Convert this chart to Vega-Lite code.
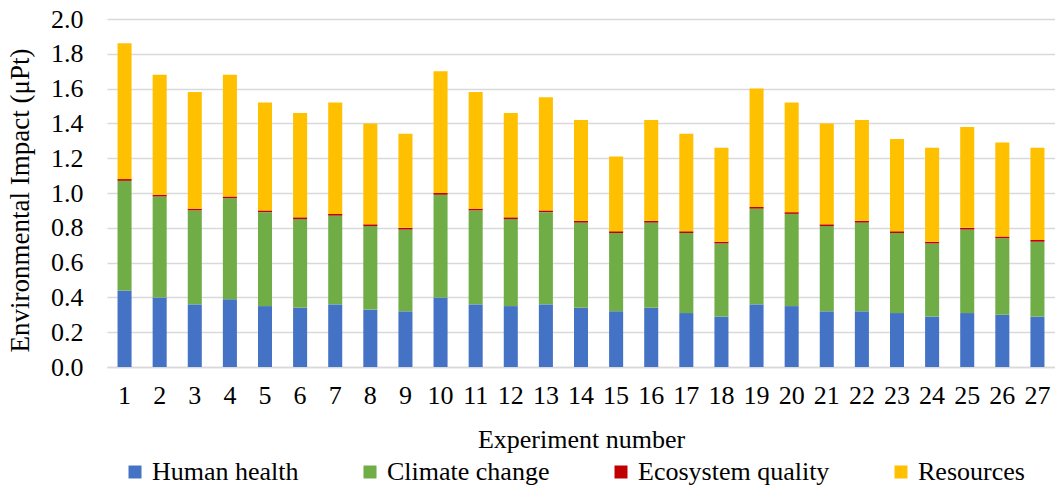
{
  "$schema": "https://vega.github.io/schema/vega-lite/v6.json",
  "width": 948,
  "height": 348,
  "autosize": "none",
  "padding": {"left": 107, "top": 19, "right": 0, "bottom": 121},
  "background": "white",
  "config": {
    "font": "Liberation Serif",
    "view": {"stroke": null},
    "axis": {"labelFont": "Liberation Serif", "titleFont": "Liberation Serif", "labelColor": "#000", "titleColor": "#000", "labelFontSize": 26, "titleFontSize": 26, "titleFontWeight": "normal"},
    "legend": {"labelFont": "Liberation Serif", "labelFontSize": 26, "labelColor": "#000", "labelLimit": 0}
  },
  "data": {
    "values": [
      {"Experiment": 1, "Human health": 0.44, "Climate change": 0.63, "Ecosystem quality": 0.01, "Resources": 0.78},
      {"Experiment": 2, "Human health": 0.40, "Climate change": 0.58, "Ecosystem quality": 0.01, "Resources": 0.69},
      {"Experiment": 3, "Human health": 0.36, "Climate change": 0.54, "Ecosystem quality": 0.01, "Resources": 0.67},
      {"Experiment": 4, "Human health": 0.39, "Climate change": 0.58, "Ecosystem quality": 0.01, "Resources": 0.70},
      {"Experiment": 5, "Human health": 0.35, "Climate change": 0.54, "Ecosystem quality": 0.01, "Resources": 0.62},
      {"Experiment": 6, "Human health": 0.34, "Climate change": 0.51, "Ecosystem quality": 0.01, "Resources": 0.60},
      {"Experiment": 7, "Human health": 0.36, "Climate change": 0.51, "Ecosystem quality": 0.01, "Resources": 0.64},
      {"Experiment": 8, "Human health": 0.33, "Climate change": 0.48, "Ecosystem quality": 0.01, "Resources": 0.58},
      {"Experiment": 9, "Human health": 0.32, "Climate change": 0.47, "Ecosystem quality": 0.01, "Resources": 0.54},
      {"Experiment": 10, "Human health": 0.40, "Climate change": 0.59, "Ecosystem quality": 0.01, "Resources": 0.70},
      {"Experiment": 11, "Human health": 0.36, "Climate change": 0.54, "Ecosystem quality": 0.01, "Resources": 0.67},
      {"Experiment": 12, "Human health": 0.35, "Climate change": 0.50, "Ecosystem quality": 0.01, "Resources": 0.60},
      {"Experiment": 13, "Human health": 0.36, "Climate change": 0.53, "Ecosystem quality": 0.01, "Resources": 0.65},
      {"Experiment": 14, "Human health": 0.34, "Climate change": 0.49, "Ecosystem quality": 0.01, "Resources": 0.58},
      {"Experiment": 15, "Human health": 0.32, "Climate change": 0.45, "Ecosystem quality": 0.01, "Resources": 0.43},
      {"Experiment": 16, "Human health": 0.34, "Climate change": 0.49, "Ecosystem quality": 0.01, "Resources": 0.58},
      {"Experiment": 17, "Human health": 0.31, "Climate change": 0.46, "Ecosystem quality": 0.01, "Resources": 0.56},
      {"Experiment": 18, "Human health": 0.29, "Climate change": 0.42, "Ecosystem quality": 0.01, "Resources": 0.54},
      {"Experiment": 19, "Human health": 0.36, "Climate change": 0.55, "Ecosystem quality": 0.01, "Resources": 0.68},
      {"Experiment": 20, "Human health": 0.35, "Climate change": 0.53, "Ecosystem quality": 0.01, "Resources": 0.63},
      {"Experiment": 21, "Human health": 0.32, "Climate change": 0.49, "Ecosystem quality": 0.01, "Resources": 0.58},
      {"Experiment": 22, "Human health": 0.32, "Climate change": 0.51, "Ecosystem quality": 0.01, "Resources": 0.58},
      {"Experiment": 23, "Human health": 0.31, "Climate change": 0.46, "Ecosystem quality": 0.01, "Resources": 0.53},
      {"Experiment": 24, "Human health": 0.29, "Climate change": 0.42, "Ecosystem quality": 0.01, "Resources": 0.54},
      {"Experiment": 25, "Human health": 0.31, "Climate change": 0.48, "Ecosystem quality": 0.01, "Resources": 0.58},
      {"Experiment": 26, "Human health": 0.30, "Climate change": 0.44, "Ecosystem quality": 0.01, "Resources": 0.54},
      {"Experiment": 27, "Human health": 0.29, "Climate change": 0.43, "Ecosystem quality": 0.01, "Resources": 0.53}
    ]
  },
  "transform": [
    {"fold": ["Human health", "Climate change", "Ecosystem quality", "Resources"], "as": ["Category", "Impact"]},
    {
      "lookup": "Category",
      "from": {
        "data": {
          "values": [
            {"Category": "Human health", "rank": 1},
            {"Category": "Climate change", "rank": 2},
            {"Category": "Ecosystem quality", "rank": 3},
            {"Category": "Resources", "rank": 4}
          ]
        },
        "key": "Category",
        "fields": ["rank"]
      }
    }
  ],
  "mark": {"type": "bar"},
  "encoding": {
    "x": {
      "field": "Experiment",
      "type": "ordinal",
      "scale": {"paddingInner": 0.6, "paddingOuter": 0.3},
      "axis": {
        "title": "Experiment number",
        "labelAngle": 0,
        "ticks": false,
        "labelPadding": 15,
        "domainColor": "#D9D9D9",
        "domainWidth": 1.5,
        "titleY": 72,
        "titleBaseline": "middle"
      }
    },
    "y": {
      "field": "Impact",
      "type": "quantitative",
      "stack": "zero",
      "scale": {"domain": [0, 2], "nice": false},
      "axis": {
        "title": "Environmental Impact (μPt)",
        "titleFontSize": 27,
        "values": [0, 0.2, 0.4, 0.6, 0.8, 1.0, 1.2, 1.4, 1.6, 1.8, 2.0],
        "format": ".1f",
        "ticks": false,
        "domain": false,
        "labelPadding": 24,
        "gridColor": "#D9D9D9",
        "gridWidth": 1.5,
        "titleX": -87,
        "titleY": 181,
        "titleBaseline": "middle",
        "titleLimit": 0
      }
    },
    "order": {"field": "rank", "type": "quantitative", "sort": "ascending"},
    "color": {
      "field": "Category",
      "type": "nominal",
      "sort": ["Human health", "Climate change", "Ecosystem quality", "Resources"],
      "scale": {
        "domain": ["Human health", "Climate change", "Ecosystem quality", "Resources"],
        "range": ["#4472C4", "#70AD47", "#C00000", "#FFC000"]
      },
      "legend": {
        "title": null,
        "orient": "none",
        "direction": "horizontal",
        "legendX": 15,
        "legendY": 440,
        "symbolType": "square",
        "symbolSize": 169,
        "symbolStrokeWidth": 0,
        "labelOffset": 4,
        "labelLimit": 0,
        "columnPadding": 58
      }
    }
  }
}
